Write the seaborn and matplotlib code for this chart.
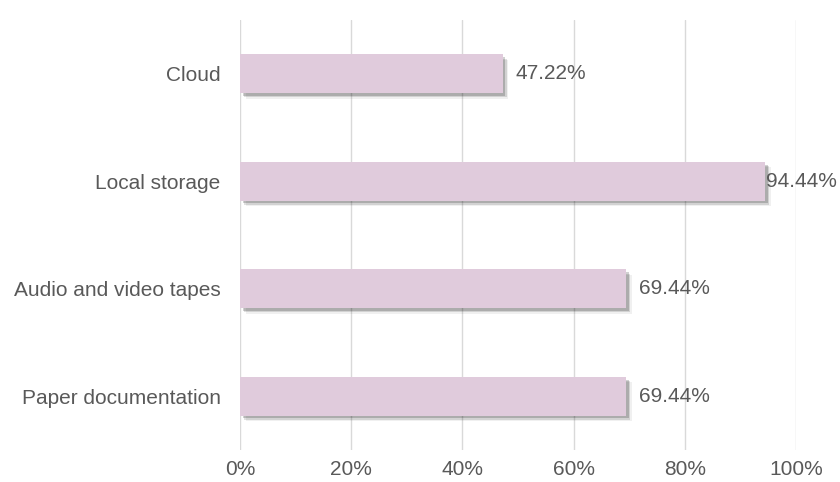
import matplotlib
matplotlib.use("Agg")
import matplotlib.pyplot as plt
import matplotlib.patheffects as pe
from matplotlib.ticker import FuncFormatter
import seaborn as sns
import pandas as pd

categories = ["Cloud", "Local storage", "Audio and video tapes", "Paper documentation"]
values = [47.22, 94.44, 69.44, 69.44]
x_ticks = [0, 20, 40, 60, 80, 100]

df = pd.DataFrame({"category": categories, "value": values})

sns.set_theme(style="white")
plt.rcParams["font.family"] = ["Liberation Sans", "DejaVu Sans"]

text_color = "#595959"
bar_color = "#E0CBDC"

fig = plt.figure(figsize=(8.4, 4.82), dpi=100)
ax = fig.add_axes([240 / 840, 1 - 450 / 482, 556 / 840, 430 / 482])

sns.barplot(data=df, x="value", y="category", orient="h", color=bar_color,
            width=0.36, saturation=1, ax=ax, zorder=3)

# soft drop shadow under each bar
shadow = [
    pe.SimplePatchShadow(offset=(4, -4), shadow_rgbFace="#000000", alpha=0.06),
    pe.SimplePatchShadow(offset=(3, -3), shadow_rgbFace="#000000", alpha=0.12),
    pe.SimplePatchShadow(offset=(2, -2), shadow_rgbFace="#000000", alpha=0.18),
    pe.Normal(),
]
for patch in ax.patches:
    patch.set_edgecolor("none")
    patch.set_path_effects(shadow)

ax.set_xlim(0, 100)
ax.set_xticks(x_ticks)
ax.xaxis.set_major_formatter(FuncFormatter(lambda v, _: f"{v:.0f}%"))
ax.grid(axis="x", color="#D9D9D9", linewidth=1, zorder=0)
ax.grid(axis="y", visible=False)
for s in ax.spines.values():
    s.set_visible(False)
ax.tick_params(axis="both", length=0, labelsize=15, labelcolor=text_color)
ax.tick_params(axis="x", pad=7)
ax.tick_params(axis="y", pad=14)
ax.set_xlabel("")
ax.set_ylabel("")

# value labels just past the end of each bar
for patch, v in zip(ax.patches, values):
    y = patch.get_y() + patch.get_height() / 2
    pad = 9 if v < 90 else 1
    ax.annotate(f"{v:.2f}%", xy=(v, y), xytext=(pad, 0), textcoords="offset points",
                ha="left", va="center", fontsize=15, color=text_color,
                annotation_clip=False, zorder=5)

fig.savefig("out.png", dpi=100, facecolor="white")
